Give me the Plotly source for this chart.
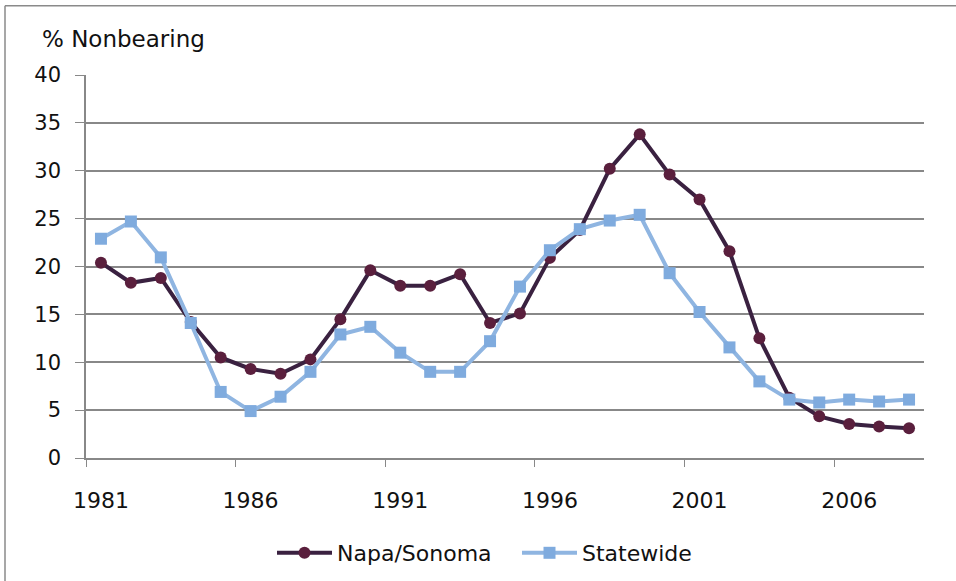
import plotly.graph_objects as go

years = [str(y) for y in range(1981, 2009)]
napa_sonoma = [20.4, 18.3, 18.8, 14.2, 10.5, 9.3, 8.8, 10.3, 14.5, 19.6,
               18.0, 18.0, 19.2, 14.1, 15.1, 20.9, 23.8, 30.2, 33.8, 29.6,
               27.0, 21.6, 12.5, 6.3, 4.35, 3.55, 3.3, 3.1]
statewide = [22.9, 24.7, 20.95, 14.1, 6.9, 4.9, 6.4, 9.0, 12.9, 13.7,
             11.0, 9.0, 9.0, 12.2, 17.9, 21.7, 23.9, 24.8, 25.4, 19.3,
             15.25, 11.55, 8.0, 6.1, 5.8, 6.1, 5.9, 6.1]
y_ticks = [0, 5, 10, 15, 20, 25, 30, 35, 40]

W, H = 956, 581
L, R, T, B = 86, 924, 75.3, 458.3
FONT = "DejaVu Sans"
TXT = "#111111"
GRID = "#888888"


def px_x(px):
    return (px - L) / (R - L)


def px_y(py):
    return (B - py) / (B - T)


fig = go.Figure()
fig.add_trace(go.Scatter(
    x=years, y=napa_sonoma, name="Napa/Sonoma", mode="lines+markers",
    line=dict(color="#3a2140", width=4),
    marker=dict(symbol="circle", size=12, color="#5a1f3d"),
))
fig.add_trace(go.Scatter(
    x=years, y=statewide, name="Statewide", mode="lines+markers",
    line=dict(color="#8fb5e1", width=4),
    marker=dict(symbol="square", size=12, color="#7fabde"),
))

fig.update_layout(
    width=W, height=H, autosize=False,
    margin=dict(l=L, r=W - R, t=T, b=H - B, pad=0, autoexpand=False),
    paper_bgcolor="white", plot_bgcolor="white",
    font=dict(family=FONT, size=22, color=TXT),
    showlegend=True,
    legend=dict(orientation="h", xref="container", yref="container",
                x=272 / W, xanchor="left",
                y=(H - 553) / H, yanchor="middle", itemwidth=55,
                entrywidth=175, entrywidthmode="pixels",
                font=dict(family=FONT, size=22, color=TXT),
                bgcolor="rgba(0,0,0,0)", traceorder="normal"),
    xaxis=dict(type="category", range=[-0.5, len(years) - 0.5],
               dtick=5, tickson="boundaries", ticks="outside", ticklen=7,
               tickangle=0, tickcolor=GRID, showgrid=False, showline=True,
               linecolor=GRID, linewidth=1.5, ticklabelstandoff=22,
               automargin=False,
               tickfont=dict(family=FONT, size=22, color=TXT),
               zeroline=False),
    yaxis=dict(range=[0, 40], tickvals=y_ticks, ticks="outside", ticklen=9,
               tickcolor=GRID, showgrid=True, gridcolor=GRID,
               gridwidth=1.5, showline=True, linecolor=GRID,
               linewidth=1.5, zeroline=False, ticklabelstandoff=10,
               automargin=False,
               tickfont=dict(family=FONT, size=21, color=TXT)),
    annotations=[dict(text="% Nonbearing", xref="paper", yref="paper",
                      x=px_x(40), y=px_y(39), xanchor="left", yanchor="middle",
                      showarrow=False,
                      font=dict(family=FONT, size=23, color=TXT))],
    shapes=[
        dict(type="line", xref="paper", yref="paper", x0=px_x(5), x1=px_x(960),
             y0=px_y(6), y1=px_y(6), line=dict(color="#8a8a8a", width=1.5)),
        dict(type="line", xref="paper", yref="paper", x0=px_x(5), x1=px_x(5),
             y0=px_y(6), y1=px_y(585), line=dict(color="#8a8a8a", width=1.5)),
    ],
)

fig.write_html("out.html",
               config={"displayModeBar": False},
               post_script="document.body.style.margin='0';"
                           "document.body.style.overflow='hidden';")
